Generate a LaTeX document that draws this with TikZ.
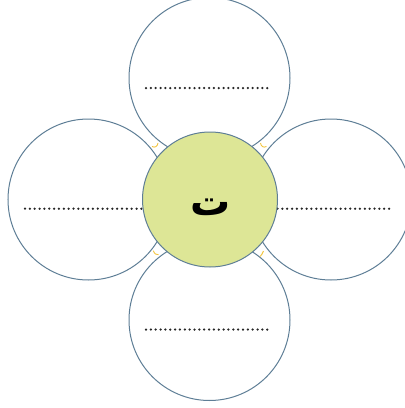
\documentclass[tikz,border=0pt]{standalone}
\usepackage{fontspec}
\newfontfamily\arabicfont[Script=Arabic]{DejaVu Sans}
\TeXXeTstate=1
\definecolor{ringblue}{RGB}{94,126,150}
\definecolor{hubfill}{RGB}{221,230,150}
\definecolor{tiny}{RGB}{242,196,60}
\tikzset{
  petal/.style={circle, draw=ringblue, line width=1pt, fill=white, inner sep=0pt, minimum size=161pt},
  hub/.style={circle, draw=ringblue, line width=1pt, fill=hubfill, inner sep=0pt, minimum size=135pt},
  dotline/.style={line width=2.5pt, line cap=round, dash pattern=on 0pt off 4.85pt, black!85},
  joint/.style={draw=tiny, line width=0.9pt}
}
\begin{document}
\begin{tikzpicture}[x=1pt,y=-1pt]
\useasboundingbox (0,0) rectangle (405,408);
\begin{scope}
\clip (0,0) rectangle (405,408);
\node[petal] (top) at (209.5,78) {};
\node[petal] (bottom) at (209.5,320) {};
\node[petal] (left) at (88.5,199.5) {};
\node[petal] (right) at (331,199.5) {};
\coordinate (t1) at (146,88);   \coordinate (t2) at (272,88);
\coordinate (b1) at (146,329.5); \coordinate (b2) at (272,329.5);
\coordinate (l1) at (25,208.7); \coordinate (l2) at (143,208.7);
\coordinate (r1) at (277.5,208.7); \coordinate (r2) at (393,208.7);
\draw[dotline] (t1) -- (t2);
\draw[dotline] (b1) -- (b2);
\draw[dotline] (l1) -- (l2);
\draw[dotline] (r1) -- (r2);
\draw[joint] (152,146.5) .. controls (155,148) and (157.5,146.5) .. (158,143);
\draw[joint] (260.5,143) .. controls (261,146.5) and (263.5,148) .. (266.5,146.5);
\draw[joint] (153.3,250.7) .. controls (154.5,254) and (156.5,255) .. (158.5,254.7);
\draw[joint] (263.5,251) .. controls (262.5,254) and (261,255.5) .. (260,256.5);
\node[hub] (hub) at (210,199.5) {};
\node[font=\arabicfont\bfseries\fontsize{40}{46}\selectfont] (letter) at (210.5,207) {\beginR ت\endR};
\end{scope}
\end{tikzpicture}
\end{document}
